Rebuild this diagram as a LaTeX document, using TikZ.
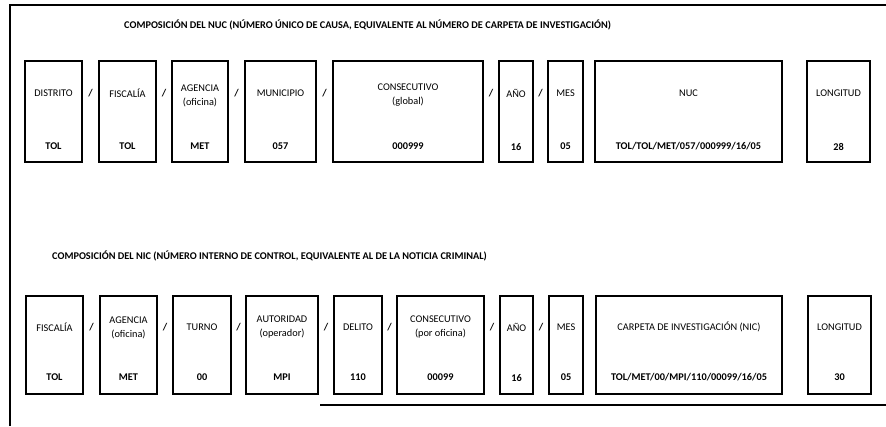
\documentclass[tikz,border=0pt]{standalone}
\usepackage{fontspec}
\setmainfont{Carlito}
\usetikzlibrary{calc}

\begin{document}
\begin{tikzpicture}[x=1pt,y=-1pt]
	\tikzstyle{box}=[draw, line width=1.2pt, inner sep=0pt, minimum height=101pt]
	\tikzstyle{boxb}=[box, minimum height=98pt]
	\tikzstyle{lbl}=[font=\fontsize{10.3}{14}\selectfont, align=center, inner sep=0pt]
	\tikzstyle{val}=[font=\fontsize{10.3}{12}\selectfont\bfseries, inner sep=0pt]
	\tikzstyle{sep}=[font=\fontsize{10.3}{12}\selectfont\bfseries, inner sep=0pt]
	\tikzstyle{ttl}=[font=\fontsize{10.3}{12}\selectfont\bfseries, inner sep=0pt, anchor=west]

	\useasboundingbox (0,0) rectangle (886,426);
	\draw[line width=1.5pt] (10,426) -- (10,5) -- (886,5);
	\draw[line width=1.5pt] (320,405) -- (886,405);

	% NUC
	\node[ttl] (tnuc) at (124,25) {COMPOSICIÓN DEL NUC (NÚMERO ÚNICO DE CAUSA, EQUIVALENTE AL NÚMERO DE CARPETA DE INVESTIGACIÓN)};
	\node[box, minimum width=57pt] (n1) at (53.5,111.5) {};
	\node[box, minimum width=57pt] (n2) at (127.5,111.5) {};
	\node[box, minimum width=56pt] (n3) at (200,111.5) {};
	\node[box, minimum width=71pt] (n4) at (280.5,111.5) {};
	\node[box, minimum width=150pt] (n5) at (408,111.5) {};
	\node[box, minimum width=34pt] (n6) at (516,111.5) {};
	\node[box, minimum width=35pt] (n7) at (565.5,111.5) {};
	\node[box, minimum width=187pt] (n8) at (688.5,111.5) {};
	\node[box, minimum width=63pt] (n9) at (838.5,111.5) {};

	\node[lbl] at ([yshift=-33pt]n1.north) {DISTRITO};
	\node[lbl] at ([yshift=-33pt]n2.north) {FISCALÍA};
	\node[lbl] at ([yshift=-35pt]n3.north) {AGENCIA\\(oficina)};
	\node[lbl] at ([yshift=-33pt]n4.north) {MUNICIPIO};
	\node[lbl] at ([yshift=-35pt]n5.north) {CONSECUTIVO\\(global)};
	\node[lbl] at ([yshift=-33pt]n6.north) {AÑO};
	\node[lbl] at ([yshift=-33pt]n7.north) {MES};
	\node[lbl] at ([yshift=-33pt]n8.north) {NUC};
	\node[lbl] at ([yshift=-33pt]n9.north) {LONGITUD};

	\node[val] at ([yshift=16pt]n1.south) {TOL};
	\node[val] at ([yshift=16pt]n2.south) {TOL};
	\node[val] at ([yshift=16pt]n3.south) {MET};
	\node[val] at ([yshift=16pt]n4.south) {057};
	\node[val] at ([yshift=16pt]n5.south) {000999};
	\node[val] at ([yshift=16pt]n6.south) {16};
	\node[val] at ([yshift=16pt]n7.south) {05};
	\node[val] at ([yshift=16pt]n8.south) {TOL/TOL/MET/057/000999/16/05};
	\node[val] at ([yshift=16pt]n9.south) {28};

	% NIC
	\node[ttl] (tnic) at (52,256) {COMPOSICIÓN DEL NIC (NÚMERO INTERNO DE CONTROL, EQUIVALENTE AL DE LA NOTICIA CRIMINAL)};
	\node[boxb, minimum width=57pt] (c1) at (54.5,345) {};
	\node[boxb, minimum width=57pt] (c2) at (128.5,345) {};
	\node[boxb, minimum width=58pt] (c3) at (202,345) {};
	\node[boxb, minimum width=72pt] (c4) at (282,345) {};
	\node[boxb, minimum width=48pt] (c5) at (358,345) {};
	\node[boxb, minimum width=87pt] (c6) at (440.5,345) {};
	\node[boxb, minimum width=33pt] (c7) at (516.5,345) {};
	\node[boxb, minimum width=34pt] (c8) at (566,345) {};
	\node[boxb, minimum width=186pt] (c9) at (689,345) {};
	\node[boxb, minimum width=63pt] (c10) at (839.5,345) {};

	\node[lbl] at ([yshift=-32pt]c1.north) {FISCALÍA};
	\node[lbl] at ([yshift=-32pt]c2.north) {AGENCIA\\(oficina)};
	\node[lbl] at ([yshift=-32pt]c3.north) {TURNO};
	\node[lbl] at ([yshift=-32pt]c4.north) {AUTORIDAD\\(operador)};
	\node[lbl] at ([yshift=-32pt]c5.north) {DELITO};
	\node[lbl] at ([yshift=-32pt]c6.north) {CONSECUTIVO\\(por oficina)};
	\node[lbl] at ([yshift=-32pt]c7.north) {AÑO};
	\node[lbl] at ([yshift=-32pt]c8.north) {MES};
	\node[lbl] at ([yshift=-32pt]c9.north) {CARPETA DE INVESTIGACIÓN (NIC)};
	\node[lbl] at ([yshift=-32pt]c10.north) {LONGITUD};

	\node[val] at ([yshift=17pt]c1.south) {TOL};
	\node[val] at ([yshift=17pt]c2.south) {MET};
	\node[val] at ([yshift=17pt]c3.south) {00};
	\node[val] at ([yshift=17pt]c4.south) {MPI};
	\node[val] at ([yshift=17pt]c5.south) {110};
	\node[val] at ([yshift=17pt]c6.south) {00099};
	\node[val] at ([yshift=17pt]c7.south) {16};
	\node[val] at ([yshift=17pt]c8.south) {05};
	\node[val] at ([yshift=17pt]c9.south) {TOL/MET/00/MPI/110/00099/16/05};
	\node[val] at ([yshift=17pt]c10.south) {30};

	% separators
	\foreach \from/\to in {n1/n2,n2/n3,n3/n4,n4/n5,n5/n6,n6/n7}
		\node[sep] at ($(\from.north east)!0.5!(\to.north west)+(0,33)$) {/};
	\foreach \from/\to in {c1/c2,c2/c3,c3/c4,c4/c5,c5/c6,c6/c7,c7/c8}
		\node[sep] at ($(\from.north east)!0.5!(\to.north west)+(0,32)$) {/};
\end{tikzpicture}
\end{document}
